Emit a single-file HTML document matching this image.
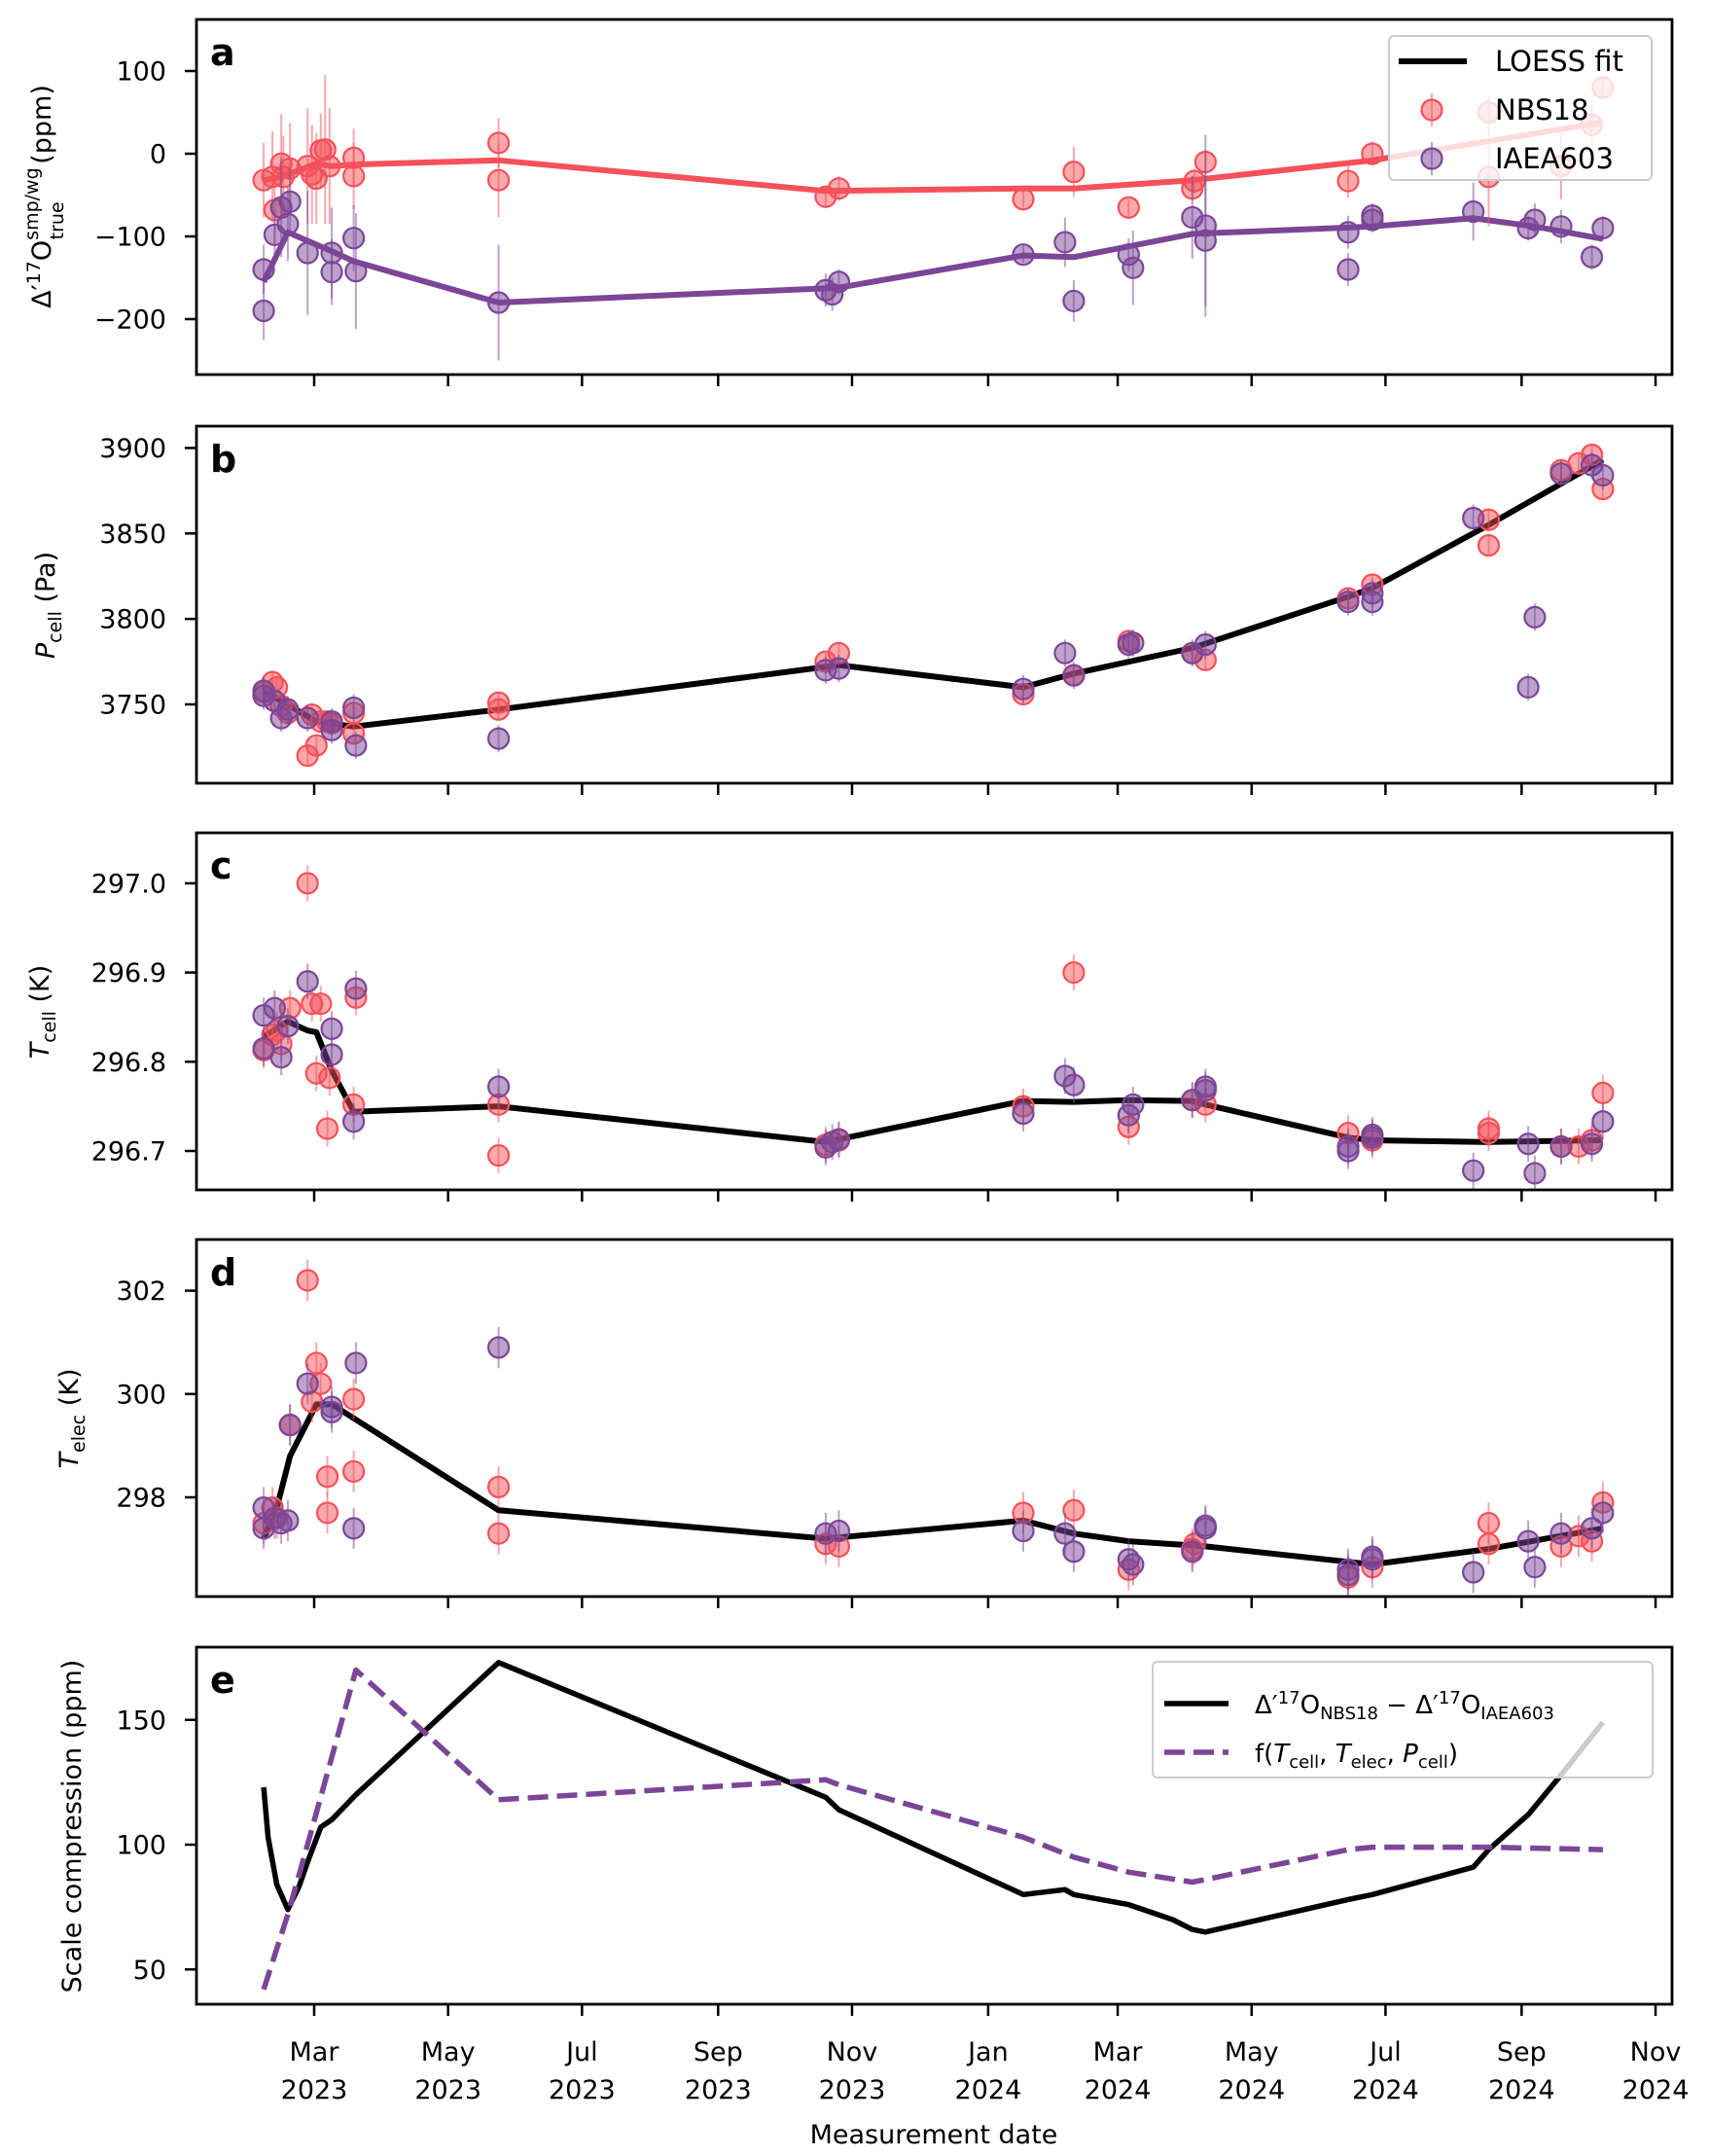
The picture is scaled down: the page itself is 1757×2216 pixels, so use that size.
<!DOCTYPE html>
<html><head><meta charset="utf-8"><style>
html,body{margin:0;padding:0;background:#fff;}
svg{display:block;font-family:"DejaVu Sans","Liberation Sans",sans-serif;}
</style></head><body>
<svg id="chart" width="1757" height="2216" viewBox="0 0 1757 2216" xmlns="http://www.w3.org/2000/svg">
<g id="content"></g>
<g id="overlay">
<!-- axis titles -->
<text transform="translate(52,202) rotate(-90)" text-anchor="middle" font-size="27">Δ′<tspan font-size="19" dy="-11">17</tspan><tspan dy="11">O</tspan><tspan font-size="19" dy="-13">smp/wg</tspan><tspan font-size="19" dx="-74" dy="26">true</tspan><tspan dx="30" dy="-13"> (ppm)</tspan></text>
<text transform="translate(56,622) rotate(-90)" text-anchor="middle" font-size="27"><tspan font-style="italic">P</tspan><tspan font-size="19" dy="7">cell</tspan><tspan dy="-7"> (Pa)</tspan></text>
<text transform="translate(50,1040) rotate(-90)" text-anchor="middle" font-size="27"><tspan font-style="italic">T</tspan><tspan font-size="19" dy="7">cell</tspan><tspan dy="-7"> (K)</tspan></text>
<text transform="translate(80,1458) rotate(-90)" text-anchor="middle" font-size="27"><tspan font-style="italic">T</tspan><tspan font-size="19" dy="7">elec</tspan><tspan dy="-7"> (K)</tspan></text>
<text transform="translate(83,1877) rotate(-90)" text-anchor="middle" font-size="27">Scale compression (ppm)</text>
<text x="960" y="2203" text-anchor="middle" font-size="27">Measurement date</text>

<!-- legend a -->
<g>
<rect x="1428" y="37" width="270" height="148" rx="5" fill="rgba(255,255,255,0.8)" stroke="#ccc" stroke-width="2"/>
<line x1="1438" x2="1508" y1="63" y2="63" stroke="#000" stroke-width="6"/>
<text x="1537" y="73" font-size="29">LOESS fit</text>
<line x1="1472" x2="1472" y1="96" y2="130" stroke="#f4515a" stroke-width="2" stroke-opacity="0.5"/>
<circle cx="1472" cy="113" r="10.5" fill="rgba(244,81,90,0.5)" stroke="#f4515a" stroke-width="2.2"/>
<text x="1537" y="123" font-size="29">NBS18</text>
<line x1="1472" x2="1472" y1="146" y2="180" stroke="#7b4697" stroke-width="2" stroke-opacity="0.5"/>
<circle cx="1472" cy="163" r="10.5" fill="rgba(123,70,151,0.5)" stroke="#7b4697" stroke-width="2.2"/>
<text x="1537" y="173" font-size="29">IAEA603</text>
</g>

<!-- legend e -->
<g>
<rect x="1185" y="1708" width="514" height="119" rx="5" fill="rgba(255,255,255,0.8)" stroke="#ccc" stroke-width="2"/>
<line x1="1197" x2="1263" y1="1751" y2="1751" stroke="#000" stroke-width="5.5"/>
<text x="1290" y="1761" font-size="26">Δ′<tspan font-size="18" dy="-10">17</tspan><tspan dy="10">O</tspan><tspan font-size="18" dy="6">NBS18</tspan><tspan dy="-6"> − Δ′</tspan><tspan font-size="18" dy="-10">17</tspan><tspan dy="10">O</tspan><tspan font-size="18" dy="6">IAEA603</tspan></text>
<line x1="1197" x2="1263" y1="1801" y2="1801" stroke="#7b4697" stroke-width="5.5" stroke-dasharray="21 9"/>
<text x="1290" y="1811" font-size="26">f(<tspan font-style="italic">T</tspan><tspan font-size="18" dy="6">cell</tspan><tspan dy="-6">, </tspan><tspan font-style="italic">T</tspan><tspan font-size="18" dy="6">elec</tspan><tspan dy="-6">, </tspan><tspan font-style="italic">P</tspan><tspan font-size="18" dy="6">cell</tspan><tspan dy="-6">)</tspan></text>
</g>
</g>
</svg>
<script>
// ---- data (day = days since 2023-01-01) ----
const aNbsDays = [36,40,41,44,45,48,56,58,60,62,64,66,77,77,143,143,292,298,382,405,430,459,460,465,530,541,594,594,627,641,646];
const aNbsVals = [-32,-28,-68,-12,-28,-18,-15,-25,-30,4,5,-15,-5,-27,13,-32,-52,-42,-55,-22,-65,-42,-33,-10,-33,0,50,-28,-15,35,80];
const aNbsErr  = [45,55,40,60,50,55,70,60,55,45,90,70,35,40,30,45,12,15,10,30,10,15,15,15,20,15,20,60,40,25,15];
const aIaeaDays = [36,36,41,44,47,48,56,67,67,77,78,143,292,295,298,382,401,405,430,432,459,465,465,530,530,541,541,587,612,615,627,641,646];
const aIaeaVals = [-140,-190,-98,-65,-85,-58,-120,-120,-143,-102,-142,-180,-165,-170,-155,-122,-107,-178,-122,-138,-77,-87,-105,-140,-95,-80,-75,-70,-90,-80,-88,-125,-90];
const aIaeaErr  = [30,35,30,60,45,40,75,55,40,40,70,70,20,20,15,10,30,25,20,45,50,110,80,20,20,15,15,35,15,20,20,15,15];
const aNbsFitDays = [36,44,60,67,77,143,292,382,405,459,541,646];
const aNbsFitVals = [-32,-28,-12,-15,-13,-8,-45,-42,-42,-32,-8,38];
const aIaeaFitDays = [36,47,67,77,143,298,382,405,459,541,587,615,646];
const aIaeaFitVals = [-155,-95,-118,-130,-180,-162,-123,-125,-97,-88,-78,-88,-103];

const bNbsDays = [36,40,42,44,47,56,58,60,62,65,67,77,77,143,143,292,298,382,405,430,459,465,530,541,594,594,627,635,641,646];
const bNbsVals = [3757,3763,3760,3749,3745,3720,3744,3726,3740,3740,3739,3745,3733,3751,3747,3775,3780,3756,3767,3787,3780,3776,3812,3820,3843,3858,3887,3891,3896,3876];
const bIaeaDays = [36,36,41,44,47,56,67,67,77,78,143,292,298,382,401,405,430,432,459,465,530,541,541,587,612,615,627,641,646];
const bIaeaVals = [3755,3758,3752,3742,3747,3742,3735,3740,3748,3726,3730,3770,3771,3759,3780,3767,3785,3786,3780,3785,3810,3810,3815,3859,3760,3801,3885,3890,3884];
const bFitDays = [36,60,77,143,298,382,405,459,530,541,594,646];
const bFitVals = [3758,3740,3737,3747,3773,3760,3768,3783,3813,3818,3855,3893];

const cNbsDays = [36,40,42,44,48,56,58,60,62,65,66,77,78,143,143,292,298,382,405,430,459,465,530,541,594,594,627,635,641,646];
const cNbsVals = [296.813,296.83,296.835,296.82,296.86,297.0,296.865,296.787,296.865,296.725,296.782,296.752,296.872,296.752,296.695,296.707,296.712,296.75,296.9,296.727,296.757,296.752,296.72,296.712,296.72,296.725,296.705,296.705,296.712,296.765];
const cIaeaDays = [36,36,41,44,47,56,67,67,77,78,143,292,295,298,382,401,405,430,432,459,465,465,530,530,541,541,587,612,615,627,641,646];
const cIaeaVals = [296.852,296.815,296.86,296.805,296.84,296.89,296.837,296.808,296.733,296.882,296.772,296.704,296.71,296.713,296.742,296.784,296.774,296.74,296.752,296.757,296.772,296.768,296.7,296.705,296.718,296.715,296.678,296.708,296.675,296.705,296.708,296.733];
const cFitDays = [36,47,56,60,67,77,143,292,382,405,430,459,465,530,541,594,646];
const cFitVals = [296.828,296.845,296.835,296.833,296.79,296.744,296.75,296.71,296.756,296.755,296.757,296.756,296.752,296.715,296.712,296.71,296.712];

const dNbsDays = [36,40,42,48,56,58,60,62,65,65,77,77,143,143,292,298,382,405,430,459,460,530,541,594,594,627,635,641,646];
const dNbsVals = [297.5,297.8,297.6,299.4,302.2,299.85,300.6,300.2,297.7,298.4,299.9,298.5,298.2,297.3,297.1,297.05,297.7,297.75,296.6,297.0,297.1,296.45,296.65,297.5,297.1,297.05,297.25,297.15,297.9];
const dIaeaDays = [36,36,41,44,47,48,56,67,67,77,78,143,292,298,382,401,405,430,432,459,465,465,530,530,541,541,587,612,615,627,641,646];
const dIaeaVals = [297.8,297.4,297.6,297.5,297.55,299.4,300.2,299.75,299.65,297.4,300.6,300.9,297.3,297.35,297.35,297.3,296.95,296.8,296.7,296.95,297.4,297.45,296.5,296.6,296.8,296.85,296.55,297.15,296.65,297.3,297.4,297.7];
const dFitDays = [36,42,48,60,67,143,292,382,405,430,465,541,594,646];
const dFitVals = [297.2,297.8,298.8,299.8,299.8,297.75,297.2,297.55,297.3,297.15,297.05,296.7,297.0,297.4];

const eDiffDays = [36,38,42,47,52,56,62,67,78,143,292,298,382,401,405,430,450,459,465,530,541,587,594,612,627,646];
const eDiffVals = [123,103,84,74,83,93,107,110,120,173,119,114,80,82,80,76,70,66,65,78,80,91,98,112,128,149];
const eModelDays = [36,47,56,78,143,292,298,382,405,430,459,465,530,541,594,646];
const eModelVals = [42,72,100,170,118,126,124,103,95,89,85,86,98,99,99,98];

const xTickDays = [59,120,181,243,304,366,425,486,547,609,670];
const xTickMonths = ["Mar","May","Jul","Sep","Nov","Jan","Mar","May","Jul","Sep","Nov"];
const xTickYears = ["2023","2023","2023","2023","2023","2024","2024","2024","2024","2024","2024"];

// ---- axes ----
const L = 202, R = 1719;
function xs(d){ return 323 + (d - 59) * 2.257; }
const panels = [
  {id:'a', top:20, bot:385, y:v=>158-0.85*v, ticks:[-200,-100,0,100], fmt:v=>v<0?'\u2212'+(-v):String(v)},
  {id:'b', top:438, bot:805, y:v=>724-(v-3750)*1.757, ticks:[3750,3800,3850,3900], fmt:v=>String(v)},
  {id:'c', top:856, bot:1223, y:v=>1183-(v-296.7)*917, ticks:[296.7,296.8,296.9,297.0], fmt:v=>v.toFixed(1)},
  {id:'d', top:1274, bot:1641, y:v=>1539-(v-298)*53.1, ticks:[298,300,302], fmt:v=>String(v)},
  {id:'e', top:1693, bot:2060, y:v=>1896-(v-100)*2.565, ticks:[50,100,150], fmt:v=>String(v)}
];
const NS = 'http://www.w3.org/2000/svg';
const root = document.getElementById('content');
function mk(tag, attrs, parent){
  const el = document.createElementNS(NS, tag);
  for (const k in attrs) el.setAttribute(k, attrs[k]);
  (parent||root).appendChild(el);
  return el;
}
const RED='#f4515a', RFILL='rgba(244,81,90,0.5)', PUR='#7b4697', PFILL='rgba(123,70,151,0.5)';

function linePath(days, vals, p){
  return days.map((d,i)=>(i?'L':'M')+xs(d).toFixed(1)+' '+p.y(vals[i]).toFixed(1)).join(' ');
}
function scatter(g, days, vals, errs, p, edge, fill, errDefault, name){
  days.forEach((d,i)=>{
    const e = errs ? errs[i] : errDefault;
    const cx = xs(d);
    const eb = mk('line',{x1:cx,x2:cx,y1:p.y(vals[i]+e),y2:p.y(vals[i]-e),stroke:edge,'stroke-width':2,'stroke-opacity':0.5},g);
    
    
  });
  days.forEach((d,i)=>{
    const c = mk('circle',{cx:xs(d),cy:p.y(vals[i]),r:10.5,fill:fill,stroke:edge,'stroke-width':2.2},g);
    
    
  });
}

panels.forEach((p)=>{
  const g = mk('g',{});
  
  
  const clipId = 'clip'+p.id;
  const cp = mk('clipPath',{id:clipId},g);
  mk('rect',{x:L,y:p.top,width:R-L,height:p.bot-p.top},cp);
  const plot = mk('g',{'clip-path':'url(#'+clipId+')'},g);

  if (p.id==='a'){
    const l1 = mk('path',{d:linePath(aNbsFitDays,aNbsFitVals,p),fill:'none',stroke:RED,'stroke-width':6,'stroke-linejoin':'round'},plot);
     
    const l2 = mk('path',{d:linePath(aIaeaFitDays,aIaeaFitVals,p),fill:'none',stroke:PUR,'stroke-width':6,'stroke-linejoin':'round'},plot);
     
    scatter(plot,aNbsDays,aNbsVals,aNbsErr,p,RED,RFILL,0,'nbs18');
    scatter(plot,aIaeaDays,aIaeaVals,aIaeaErr,p,PUR,PFILL,0,'iaea603');
  } else if (p.id==='b'){
    const l = mk('path',{d:linePath(bFitDays,bFitVals,p),fill:'none',stroke:'#000','stroke-width':6,'stroke-linejoin':'round'},plot);
     
    scatter(plot,bNbsDays,bNbsVals,null,p,RED,RFILL,6,'nbs18');
    scatter(plot,bIaeaDays,bIaeaVals,null,p,PUR,PFILL,8,'iaea603');
  } else if (p.id==='c'){
    const l = mk('path',{d:linePath(cFitDays,cFitVals,p),fill:'none',stroke:'#000','stroke-width':6,'stroke-linejoin':'round'},plot);
     
    scatter(plot,cNbsDays,cNbsVals,null,p,RED,RFILL,0.02,'nbs18');
    scatter(plot,cIaeaDays,cIaeaVals,null,p,PUR,PFILL,0.02,'iaea603');
  } else if (p.id==='d'){
    const l = mk('path',{d:linePath(dFitDays,dFitVals,p),fill:'none',stroke:'#000','stroke-width':6,'stroke-linejoin':'round'},plot);
     
    scatter(plot,dNbsDays,dNbsVals,null,p,RED,RFILL,0.4,'nbs18');
    scatter(plot,dIaeaDays,dIaeaVals,null,p,PUR,PFILL,0.4,'iaea603');
  } else {
    const l1 = mk('path',{d:linePath(eDiffDays,eDiffVals,p),fill:'none',stroke:'#000','stroke-width':5.5,'stroke-linejoin':'round'},plot);
     
    const l2 = mk('path',{d:linePath(eModelDays,eModelVals,p),fill:'none',stroke:PUR,'stroke-width':5.5,'stroke-dasharray':'21 9','stroke-linejoin':'round'},plot);
     
  }

  const fr = mk('rect',{x:L,y:p.top,width:R-L,height:p.bot-p.top,fill:'none',stroke:'#000','stroke-width':2.8},g);
   
  p.ticks.forEach(t=>{
    const y = p.y(t);
    const tk = mk('line',{x1:L-12,x2:L,y1:y,y2:y,stroke:'#000','stroke-width':2.5},g);
     
    const tl = mk('text',{x:171,y:y+9.5,'text-anchor':'end','font-size':27,fill:'#000'},g);
    tl.textContent = p.fmt(t);
     
  });
  xTickDays.forEach((d,i)=>{
    const x = xs(d);
    const tk = mk('line',{x1:x,x2:x,y1:p.bot,y2:p.bot+12,stroke:'#000','stroke-width':2.5},g);
     
    if (p.id==='e'){
      const t1 = mk('text',{x:x,y:2118,'text-anchor':'middle','font-size':27},g);
      t1.textContent = xTickMonths[i];
       
      const t2 = mk('text',{x:x,y:2157,'text-anchor':'middle','font-size':27},g);
      t2.textContent = xTickYears[i];
       
    }
  });
  const pl = mk('text',{x:216,y:p.top+47,'font-size':38,'font-weight':'bold'},g);
  pl.textContent = p.id;
   
});
</script>
</body></html>
